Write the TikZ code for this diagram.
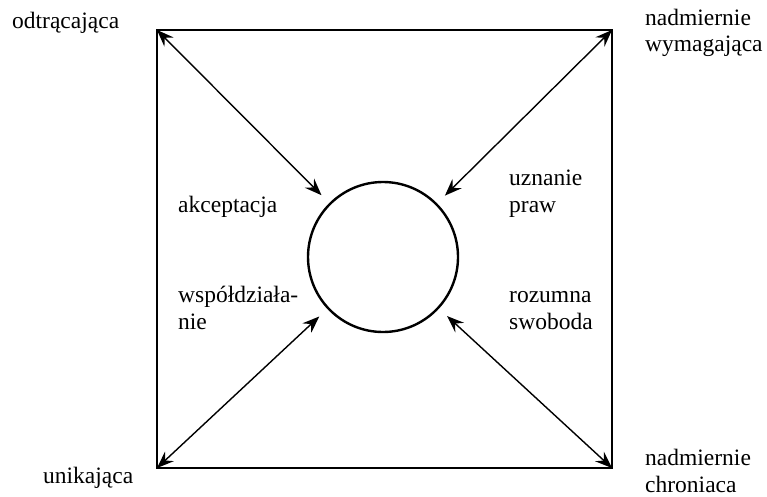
\documentclass[tikz,border=0pt]{standalone}
\usepackage{fontspec}
\setmainfont{Liberation Serif}
\usetikzlibrary{arrows.meta,positioning,calc}

\begin{document}
\begin{tikzpicture}[x=1pt,y=-1pt,
    lbl/.style={font=\fontsize{23.5}{26.5}\selectfont, inner sep=0pt, align=left, anchor=base west},
    both/.style={{Stealth[length=17pt,width=13pt,inset=6pt]}-{Stealth[length=17pt,width=13pt,inset=6pt]},
      line width=1.4pt, shorten >=11pt}]
  \useasboundingbox (0,0) rectangle (767,497);
  % corners of the frame
  \coordinate (ul) at (157,30);
  \coordinate (ur) at (612,30);
  \coordinate (lr) at (612,468);
  \coordinate (ll) at (157,468);
  \draw[line width=2.8pt] (ul) -- (ur) -- (lr) -- (ll) -- cycle;
  \node[circle, draw, line width=2.4pt, minimum size=150pt, inner sep=0pt] (mid) at (383,257) {};
  \draw[both] (ul) -- (mid);
  \draw[both] (ur) -- (mid);
  \draw[both] (lr) -- (mid);
  \draw[both] (ll) -- (mid);
  % corner labels
  \node[lbl] (odt) at (12,29) {odtrącająca};
  \node[lbl] (wym) at (645,52) {nadmiernie\\wymagająca};
  \node[lbl] (chr) at (645,492) {nadmiernie\\chroniaca};
  \node[lbl] (uni) at (43,483) {unikająca};
  % inner labels
  \node[lbl] (akc) at (178,212) {akceptacja};
  \node[lbl] (uzn) at (509,212) {uznanie\\praw};
  \node[lbl] (wsp) at (178,329) {współdziała-\\nie};
  \node[lbl] (roz) at (509,329) {rozumna\\swoboda};
\end{tikzpicture}
\end{document}
